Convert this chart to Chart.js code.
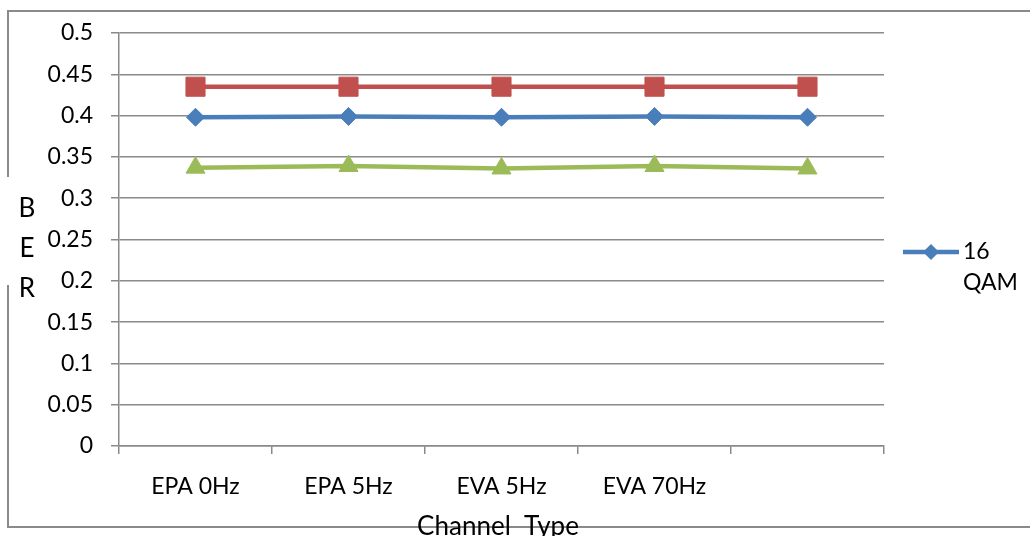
<!DOCTYPE html>
<html>
<head>
<meta charset="utf-8">
<script src="https://cdn.jsdelivr.net/npm/chart.js@4"></script>
<style>
  html, body { margin: 0; padding: 0; background: #ffffff; }
  #wrap { width: 1030px; height: 536px; }
</style>
</head>
<body>
<div id="wrap"><canvas id="c" width="1030" height="536"></canvas></div>
<script>
// Channel types on the x axis (last slot carries no label)
const categories = ['EPA 0Hz', 'EPA 5Hz', 'EVA 5Hz', 'EVA 70Hz', ''];

// Bit error rate per channel type
const ber16qam = [0.398, 0.399, 0.398, 0.399, 0.398];
const berRed   = [0.435, 0.435, 0.435, 0.435, 0.435];
const berGreen = [0.337, 0.339, 0.336, 0.339, 0.336];

const seriesNames = ['16 QAM', '', ''];
const yTitleLetters = ['B', 'E', 'R'];
const xTitle = 'Channel  Type';

const FONT = 'Lato, "Open Sans", sans-serif';
const GRID = '#8a8a8a';

// Frame, stacked y title, x title and a one-entry legend
const decorations = {
  id: 'decorations',
  afterDraw(chart) {
    const ctx = chart.ctx;
    ctx.save();
    // outer frame (left side interrupted by the y title)
    ctx.strokeStyle = GRID;
    ctx.lineWidth = 2;
    ctx.beginPath();
    ctx.moveTo(1032, 11); ctx.lineTo(8, 11); ctx.lineTo(8, 177);
    ctx.moveTo(8, 285); ctx.lineTo(8, 527); ctx.lineTo(1032, 527);
    ctx.stroke();

    ctx.fillStyle = '#000';
    ctx.font = '26px ' + FONT;
    ctx.textAlign = 'center';
    ctx.textBaseline = 'middle';
    yTitleLetters.forEach((ch, i) => ctx.fillText(ch, 27, 209 + i * 40));

    ctx.textBaseline = 'alphabetic';
    ctx.fillText(xTitle, 498, 535);

    // legend for the first series
    const ds = chart.data.datasets[0];
    const ly = 252;
    ctx.strokeStyle = ds.borderColor;
    ctx.lineWidth = 4.5;
    ctx.beginPath();
    ctx.moveTo(903, ly); ctx.lineTo(959, ly);
    ctx.stroke();
    ctx.fillStyle = ds.borderColor;
    ctx.beginPath();
    ctx.moveTo(931, ly - 8); ctx.lineTo(939, ly); ctx.lineTo(931, ly + 8); ctx.lineTo(923, ly);
    ctx.closePath();
    ctx.fill();
    ctx.fillStyle = '#000';
    ctx.font = '23px ' + FONT;
    ctx.textAlign = 'left';
    ctx.textBaseline = 'middle';
    const words = ds.label.split(' ');
    words.forEach((w, i) => ctx.fillText(w, 963, ly + i * 31));
    ctx.restore();
  }
};

new Chart(document.getElementById('c'), {
  type: 'line',
  data: {
    labels: categories,
    datasets: [
      {
        label: seriesNames[0],
        data: ber16qam,
        borderColor: '#4a7ebb',
        backgroundColor: '#4a7ebb',
        borderWidth: 4.5,
        pointStyle: 'rectRot',
        pointRadius: 9,
        pointBorderWidth: 1,
        tension: 0
      },
      {
        label: seriesNames[1],
        data: berRed,
        borderColor: '#c0504d',
        backgroundColor: '#c0504d',
        borderWidth: 4.5,
        pointStyle: 'rect',
        pointRadius: 13.5,
        pointBorderWidth: 1,
        tension: 0
      },
      {
        label: seriesNames[2],
        data: berGreen,
        borderColor: '#9bbb59',
        backgroundColor: '#9bbb59',
        borderWidth: 4.5,
        pointStyle: 'triangle',
        pointRadius: 11,
        pointBorderWidth: 1,
        tension: 0
      }
    ]
  },
  options: {
    responsive: false,
    animation: false,
    layout: { padding: { top: 33, right: 146, left: 0, bottom: 0 } },
    plugins: { legend: { display: false }, tooltip: { enabled: false } },
    scales: {
      x: {
        offset: true,
        grid: {
          display: true,
          offset: true,
          drawOnChartArea: false,
          drawTicks: true,
          tickLength: 8,
          color: GRID,
          lineWidth: 1.5
        },
        border: { display: true, color: GRID, width: 1.5 },
        ticks: { color: '#000', font: { family: FONT, size: 23 }, padding: 19, maxRotation: 0, autoSkip: false },
        afterFit(scale) { scale.height = 90; }
      },
      y: {
        min: 0,
        max: 0.5,
        grid: { color: GRID, lineWidth: 1.5, tickLength: 8 },
        border: { display: true, color: GRID, width: 1.5 },
        ticks: {
          stepSize: 0.05,
          color: '#000',
          font: { family: FONT, size: 23 },
          padding: 18,
          callback: v => String(+v.toFixed(2))
        },
        afterFit(scale) { scale.width = 119; }
      }
    }
  },
  plugins: [decorations]
});
</script>
</body>
</html>
